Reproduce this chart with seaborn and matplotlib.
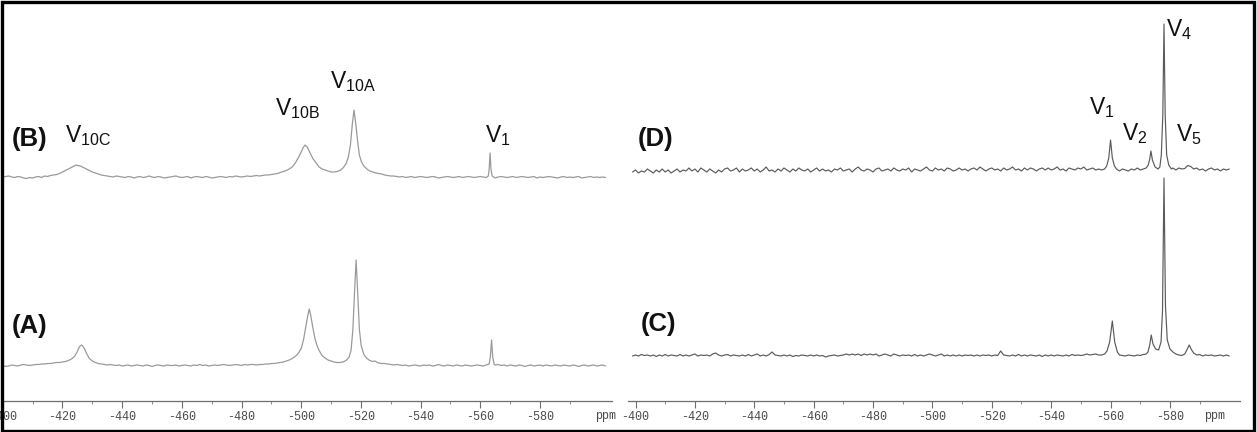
import numpy as np
import pandas as pd
import matplotlib
matplotlib.use("Agg")
import matplotlib.pyplot as plt
import seaborn as sns
from matplotlib.patches import Rectangle
from matplotlib.ticker import FixedLocator

# ---------------- data (chemical shift in ppm, intensity above baseline) -------------
B_ppm = [-400, -401, -402, -403, -404, -405, -406, -407, -408, -409,
         -410, -411, -412, -413, -414, -415, -416, -417, -418, -419,
         -420, -421, -422, -423, -424, -424.6, -425, -426, -427, -428,
         -429, -430, -431, -432, -433, -434, -435, -436, -437, -438,
         -439, -440, -441, -442, -443, -444, -445, -446, -447, -448,
         -449, -450, -451, -452, -453, -454, -455, -456, -457, -458,
         -459, -460, -461, -462, -463, -464, -465, -466, -467, -468,
         -469, -470, -471, -472, -473, -474, -475, -476, -477, -478,
         -479, -480, -481, -482, -483, -484, -485, -486, -487, -488,
         -489, -490, -491, -492, -493, -494, -495, -496, -497, -498,
         -499, -500, -500.6, -501.3, -502, -503, -504, -505, -506, -507,
         -508, -509, -510, -511, -512, -513, -514, -515, -515.8, -516.5,
         -517.1, -517.7, -518.3, -518.9, -519.5, -520.2, -521, -522, -523, -524,
         -525, -526, -527, -528, -529, -530, -531, -532, -533, -534,
         -535, -536, -537, -538, -539, -540, -541, -542, -543, -544,
         -545, -546, -547, -548, -549, -550, -551, -552, -553, -554,
         -555, -556, -557, -558, -559, -560, -561, -562, -562.7, -563,
         -563.3, -563.6, -564, -565, -566, -567, -568, -569, -570, -571,
         -572, -573, -574, -575, -576, -577, -578, -579, -580, -581,
         -582, -583, -584, -585, -586, -587, -588, -589, -590, -591,
         -592, -593, -594, -595, -596, -597, -598, -599, -600, -601,
         -602]
B_int = [0, 0.5, 1, 0, -0.5, 0.5, 0, -1, -1.5, -0.5,
         -1, 0, 0.5, -0.5, 1, 0.5, 1.5, 2, 2.5, 3.5,
         5, 6.5, 8, 9.5, 11, 12, 11.5, 11, 9.5, 8,
         6.5, 5, 4, 3, 2, 1.5, 1, 0.5, 0, 1,
         0.5, 0, -0.5, 0.5, 0, -1, 0, 0.5, -0.5, 0,
         1, 0, -0.5, 0.5, 0, -1, -0.5, 0, 0.5, 1,
         0, -0.5, 0, 0.5, -1, 0, 0.5, 0, -0.5, 0.5,
         0, -1, -0.5, 0, 0.5, 0, -0.5, 0.5, 0, 1,
         0.5, 0, 0.5, 1, 0.5, 1, 1.5, 1, 1.5, 2,
         2, 2.5, 3, 3.5, 4.5, 5.5, 6.5, 8, 10, 14,
         19, 25, 29, 32, 30, 24, 18, 14, 10, 8,
         7, 6, 5, 5, 5.5, 6.5, 9, 13, 20, 32,
         52, 67, 53, 36, 22, 15, 11, 8, 6, 5,
         4, 3.5, 3, 2, 1.5, 1, 1, 0.5, 0, 0.5,
         -0.5, 0, 0.5, -0.5, 0, 0.5, 0, -0.5, 0, 0.5,
         0, -1, -0.5, 0, 0.5, 0, -0.5, 0, 0.5, -0.5,
         0, 0.5, 0, -0.5, 0, 0.5, 0, -0.5, 1, 8,
         24, 8, 1, -1, 0, 0.5, 0, -0.5, 0, 0.5,
         -0.5, 0, 0.5, 0, -0.5, 0, 0.5, -1, 0, -0.5,
         0, 0.5, 0, -0.5, -1, 0, 0.5, -0.5, 0, -0.5,
         0, 0.5, -1, -0.5, 0, 0.5, -0.5, 0, -0.5, 0,
         -0.5]

A_ppm = [-400, -401, -402, -403, -404, -405, -406, -407, -408, -409,
         -410, -411, -412, -413, -414, -415, -416, -417, -418, -419,
         -420, -421, -422, -423, -424, -424.8, -425.4, -425.9, -426.4, -426.9,
         -427.5, -428, -429, -430, -431, -432, -433, -434, -435, -436,
         -437, -438, -439, -440, -441, -442, -443, -444, -445, -446,
         -447, -448, -449, -450, -451, -452, -453, -454, -455, -456,
         -457, -458, -459, -460, -461, -462, -463, -464, -465, -466,
         -467, -468, -469, -470, -471, -472, -473, -474, -475, -476,
         -477, -478, -479, -480, -481, -482, -483, -484, -485, -486,
         -487, -488, -489, -490, -491, -492, -493, -494, -495, -496,
         -497, -498, -499, -500, -500.8, -501.5, -502.2, -502.7, -503.2, -503.9,
         -504.6, -505.3, -506, -507, -508, -509, -510, -511, -512, -513,
         -514, -515, -516, -516.7, -517.3, -517.9, -518.4, -518.9, -519.5, -520.1,
         -521, -522, -523, -524, -524.7, -525.5, -526, -527, -528, -529,
         -530, -531, -532, -533, -534, -535, -536, -537, -538, -539,
         -540, -541, -542, -543, -544, -545, -546, -547, -548, -549,
         -550, -551, -552, -553, -554, -555, -556, -557, -558, -559,
         -560, -561, -562, -563, -563.4, -563.8, -564.2, -564.7, -565, -566,
         -567, -568, -569, -570, -571, -572, -573, -574, -575, -576,
         -577, -578, -579, -580, -581, -582, -583, -584, -585, -586,
         -587, -588, -589, -590, -591, -592, -593, -594, -595, -596,
         -597, -598, -599, -600, -601, -602]
A_int = [0, -1, -0.5, 0.5, 0, -0.5, 0.5, 1, 0.5, 0,
         0.5, 1, 1, 1.5, 1.5, 2, 2, 2.5, 3, 3,
         3.5, 4, 5, 6.5, 9, 13, 17, 19.5, 20.5, 19,
         16, 12.5, 7, 4.5, 3, 2, 1.5, 1, 0.5, 1,
         0.5, 0, 0.5, -0.5, 0, 0.5, -0.5, 0, 0.5, 0,
         -0.5, 0.5, 0, -1, 0, 0.5, 0, -0.5, 0.5, 0,
         0, 0.5, -0.5, 0, 0.5, 0, -0.5, 0.5, 0, 1,
         0, 0.5, -0.5, 0, 0.5, 0, 0.5, 1, 0.5, 0,
         0.5, 1, 0.5, 0, 1, 0.5, 1, 1, 0.5, 1,
         1, 1.5, 1.5, 2, 2, 2.5, 3, 3.5, 4.5, 5.5,
         7, 9, 12, 17, 26, 38, 50, 56.5, 50, 38,
         27, 20, 15, 10, 7.5, 5.5, 4.5, 3.5, 3, 3,
         3.5, 5, 8, 15, 35, 75, 105.5, 75, 36, 20,
         11, 7, 5, 4, 4.5, 3, 2.5, 2, 2, 1.5,
         1, 0.5, 1, 0.5, 0, 0.5, -0.5, 0, 0.5, 0,
         -0.5, 0.5, 0, 0.5, -0.5, 0, 1, 0, -0.5, 0.5,
         0, -0.5, 0.5, 0, -0.5, 0.5, 0, -0.5, 0, 0.5,
         0, -0.5, 0.5, 1.5, 9, 25.5, 8, 1, 0.5, 1,
         0, 0.5, -0.5, 0.5, 0, -0.5, 0.5, 0, -1, 0,
         0.5, -0.5, 0, 0.5, -0.5, 0.5, 0, -0.5, 0.5, 0,
         -0.5, 0.5, 0, -0.5, 0.5, 0, -1, 0, 0.5, -0.5,
         0, 0.5, -0.5, 0, 0.5, -0.5]

D_ppm = [-399, -400, -401, -402, -403, -404, -405, -406, -407, -408,
         -409, -410, -411, -412, -413, -414, -415, -416, -417, -418,
         -419, -420, -421, -422, -423, -424, -425, -426, -427, -428,
         -429, -430, -431, -432, -433, -434, -435, -436, -437, -438,
         -439, -440, -441, -442, -443, -444, -445, -446, -447, -448,
         -449, -450, -451, -452, -453, -454, -455, -456, -457, -458,
         -459, -460, -461, -462, -463, -464, -465, -466, -467, -468,
         -469, -470, -471, -472, -473, -474, -475, -476, -477, -478,
         -479, -480, -481, -482, -483, -484, -485, -486, -487, -488,
         -489, -490, -491, -492, -493, -494, -495, -496, -497, -498,
         -499, -500, -501, -502, -503, -504, -505, -506, -507, -508,
         -509, -510, -511, -512, -513, -514, -515, -516, -517, -518,
         -519, -520, -521, -522, -523, -524, -525, -526, -527, -528,
         -529, -530, -531, -532, -533, -534, -535, -536, -537, -538,
         -539, -540, -541, -542, -543, -544, -545, -546, -547, -548,
         -549, -550, -551, -552, -553, -554, -555, -556, -557, -558,
         -558.7, -559.4, -560, -560.6, -561.3, -562, -563, -564, -565, -566,
         -567, -568, -569, -570, -571, -572, -572.7, -573.2, -573.6, -574.1,
         -575, -576, -576.6, -577.1, -577.6, -578, -578.4, -578.9, -579.6, -580.5,
         -581, -582, -583, -584, -585, -586, -587, -588, -589, -590,
         -591, -592, -593, -594, -595, -596, -597, -598, -599, -600]
D_int = [-2, 0, -3, -1, -2, 1, -1, -3, 0, -2,
         1, -2, 0, -3, -1, 1, -2, 0, -1, 2,
         -1, 1, -2, 2, 0, -2, 1, -1, -3, 0,
         -2, 1, 2, -1, 0, 2, -2, 1, -1, 0,
         2, -1, 1, -2, 0, 3, -1, 0, -2, 1,
         -1, 2, 0, -2, 1, -1, 2, 0, -1, 1,
         -2, 0, 2, -1, 1, -1, 0, -2, 1, 0,
         2, -1, 0, 1, -2, 1, 3, 0, -1, 1,
         0, -2, 1, 2, -1, 0, 1, -1, 2, 0,
         -1, 1, 0, 2, -2, 1, 0, -1, 1, 3,
         0, -1, 2, 0, 1, -1, 2, 1, -1, 0,
         2, 0, 1, -1, 1, 2, 0, 3, 1, -1,
         1, 2, 0, 1, -1, 2, 0, 1, 3, 0,
         1, -1, 2, 0, 2, 1, -1, 1, 2, 0,
         2, 0, 1, 3, 0, 1, -1, 2, 1, 0,
         2, 1, 3, 0, 1, 2, 0, 1, 0, 1,
         4, 12, 30, 12, 4, 1, -1, 1, 0, -1,
         1, 0, 2, 0, 1, 2, 5, 11, 19, 10,
         3, 1, 3, 15, 55, 146, 55, 15, 5, 1,
         2, 0, 2, 1, 1.5, 4.5, 3.5, 1, 2, 0,
         1, -1, 1, 2, 0, 1, -1, 1, 0, 1]

C_ppm = [-399, -400, -401, -402, -403, -404, -405, -406, -407, -408,
         -409, -410, -411, -412, -413, -414, -415, -416, -417, -418,
         -419, -420, -421, -422, -423, -424, -425, -426, -427, -428,
         -429, -430, -431, -432, -433, -434, -435, -436, -437, -438,
         -439, -440, -441, -442, -443, -444, -445, -446, -447, -448,
         -449, -450, -451, -452, -453, -454, -455, -456, -457, -458,
         -459, -460, -461, -462, -463, -464, -465, -466, -467, -468,
         -469, -470, -471, -472, -473, -474, -475, -476, -477, -478,
         -479, -480, -481, -482, -483, -484, -485, -486, -487, -488,
         -489, -490, -491, -492, -493, -494, -495, -496, -497, -498,
         -499, -500, -501, -502, -503, -504, -505, -506, -507, -508,
         -509, -510, -511, -512, -513, -514, -515, -516, -517, -518,
         -519, -520, -521, -522, -523, -524, -525, -526, -527, -528,
         -529, -530, -531, -532, -533, -534, -535, -536, -537, -538,
         -539, -540, -541, -542, -543, -544, -545, -546, -547, -548,
         -549, -550, -551, -552, -553, -554, -555, -556, -557, -558,
         -558.8, -559.7, -560.6, -561.4, -562.3, -563, -564, -565, -566, -567,
         -568, -569, -570, -571, -572, -572.6, -573.2, -573.7, -574.3, -575.2,
         -576.2, -577, -577.5, -578, -578.5, -579.1, -580, -581, -582, -583,
         -584, -585, -585.7, -586.5, -587.3, -588, -589, -590, -591, -592,
         -593, -594, -595, -596, -597, -598, -599, -600]
C_int = [0, 1, 0, 1.5, 0.5, 1, 0, 1, -0.5, 1,
         0, 1.5, 0, 1, 0.5, 0, 1.5, 0, 1, 0,
         1, 2, 0, 1, 0.5, 1, 0, 2, 3, 1,
         0, 1, 1.5, 0, 1, 0.5, 0, 1, 0, 1.5,
         0, 1, 2, 0, 1, 0, 1.5, 4, 1, 0.5,
         0, 1, 0, 1, -0.5, 0.5, 0, 1, 0.5, 0,
         1, 0, 1, 0, 0.5, -1, 0, 0.5, 1, 0,
         0.5, 1, 2, 1, 2, 1, 2, 0.5, 2, 1,
         2, 1, 2, 0, 1, 2, 1, 0, 2, 1,
         0, 1, 0.5, 1, 0, 1.5, 0, 1, 0, 1,
         2, 1, 0, 1, 2, 0, 1, 0, 1, 0,
         1, 0, 1, 0.5, 1, 0, 1, 0, 1, 0.5,
         1, 0, 1, 0.5, 5, 1, 0.5, 0, 1, 0,
         1.5, 0, 1, 0, 1, 0.5, 0, 1, -0.5, 1,
         0, 1, 0, 1, 0.5, 0, 1, 0, 1.5, 0.5,
         1, 0.5, 1, 2, 1, 1.5, 2, 1, 1, 2,
         5, 14, 35, 14, 4, 1, 0.5, 0, 1, 0.5,
         0, 1, 0.5, 1.5, 2, 4, 11, 21, 12, 7,
         6, 14, 45, 178, 50, 16, 7, 4, 2, 1,
         0.5, 2, 6, 11, 6, 3, 1, 1.5, 0, 1,
         0.5, 1, 0, 0.5, 1, 0, 1, 0]

tick_values = [-400, -420, -440, -460, -480, -500, -520, -540, -560, -580]
tick_labels = ["-400", "-420", "-440", "-460", "-480", "-500", "-520", "-540", "-560", "-580"]
minor_values = [-410, -430, -450, -470, -490, -510, -530, -550, -570, -590]

# ---------------- style / layout ----------------
sns.set_theme(style="white")
plt.rcParams['font.family'] = ['Liberation Sans', 'DejaVu Sans']
plt.rcParams['mathtext.fontset'] = 'custom'
plt.rcParams['mathtext.rm'] = 'Liberation Sans'
plt.rcParams['mathtext.default'] = 'regular'
plt.rcParams['axes.unicode_minus'] = False

W, H = 1257, 432
fig = plt.figure(figsize=(W / 100, H / 100), dpi=100)

AX_BOTTOM, AX_TOP = 401, 5
YMAX = AX_BOTTOM - AX_TOP


def make_axes(x0, x1, xlim):
    ax = fig.add_axes([x0 / W, (H - AX_BOTTOM) / H, (x1 - x0) / W, (AX_BOTTOM - AX_TOP) / H])
    ax.set_xlim(*xlim)
    ax.set_ylim(0, YMAX)
    ax.set_facecolor('none')
    for s in ['top', 'left', 'right']:
        ax.spines[s].set_visible(False)
    ax.spines['bottom'].set_color('#6e6e6e')
    ax.spines['bottom'].set_linewidth(0.9)
    ax.set_yticks([])
    ax.set_xticks(tick_values)
    ax.set_xticklabels(tick_labels, fontfamily='Liberation Mono')
    ax.xaxis.set_minor_locator(FixedLocator(minor_values))
    ax.tick_params(axis='x', which='major', direction='out', length=5, width=0.8,
                   color='#6e6e6e', labelsize=8.5, labelcolor='#4a4a4a', pad=2.5, bottom=True)
    ax.tick_params(axis='x', which='minor', direction='out', length=2.5, width=0.7,
                   color='#8a8a8a', bottom=True)
    return ax


axL = make_axes(2, 612, (-399.73, -604.16))
axR = make_axes(628, 1240, (-397.47, -603.60))


def trace(ax, ppm, vals, offset, color, lw):
    df = pd.DataFrame({'ppm': ppm, 'y': np.asarray(vals, dtype=float) + offset})
    sns.lineplot(data=df, x='ppm', y='y', ax=ax, color=color, lw=lw,
                 estimator=None, sort=False)
    ax.set_xlabel('')
    ax.set_ylabel('')


trace(axL, B_ppm, B_int, AX_BOTTOM - 177, '#9a9a9a', 0.9)
trace(axL, A_ppm, A_int, AX_BOTTOM - 365.5, '#9a9a9a', 0.9)
trace(axR, D_ppm, D_int, AX_BOTTOM - 170, '#5a5a5a', 0.85)
trace(axR, C_ppm, C_int, AX_BOTTOM - 356, '#5a5a5a', 0.85)


def ptext(x, y, s, **kw):
    fig.text(x / W, 1 - y / H, s, **kw)


lab_kw = dict(fontsize=16.5, color='#111111', ha='left', va='baseline')
bold_kw = dict(fontsize=18.5, fontweight='bold', color='#111111', ha='left', va='baseline')

ptext(12, 146, '(B)', **bold_kw)
ptext(12, 333, '(A)', **bold_kw)
ptext(638, 146, '(D)', **bold_kw)
ptext(641, 331, '(C)', **bold_kw)

ptext(65, 142, r'$\mathregular{V_{10C}}$', **lab_kw)
ptext(275, 115, r'$\mathregular{V_{10B}}$', **lab_kw)
ptext(330, 88, r'$\mathregular{V_{10A}}$', **lab_kw)
ptext(485, 142, r'$\mathregular{V_{1}}$', **lab_kw)

ptext(1089, 114, r'$\mathregular{V_{1}}$', **lab_kw)
ptext(1122, 140, r'$\mathregular{V_{2}}$', **lab_kw)
ptext(1166, 36, r'$\mathregular{V_{4}}$', **lab_kw)
ptext(1176, 141, r'$\mathregular{V_{5}}$', **lab_kw)

ppm_kw = dict(fontsize=8.5, color='#4a4a4a', fontfamily='Liberation Mono', ha='center', va='center')
ptext(606, 416, 'ppm', **ppm_kw)
ptext(1215, 416, 'ppm', **ppm_kw)

fig.add_artist(Rectangle((1.5 / W, 1.5 / H), (W - 4.5) / W, (H - 3.5) / H,
                         transform=fig.transFigure, fill=False, edgecolor='black', lw=2.4))

fig.savefig('out.png', dpi=100)
